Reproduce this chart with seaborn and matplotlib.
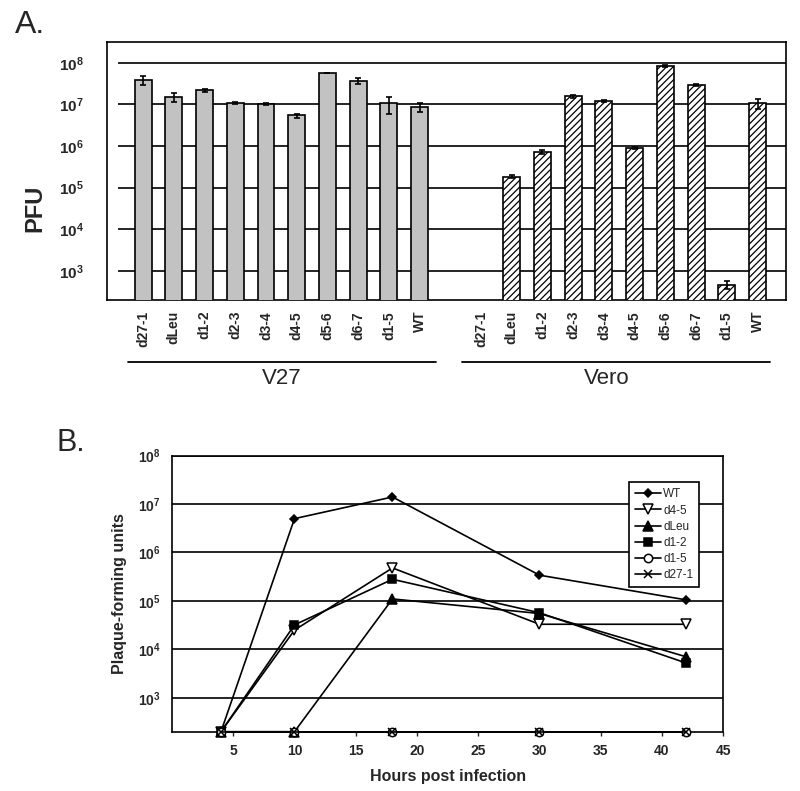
import numpy as np
import pandas as pd
import matplotlib
matplotlib.use('Agg')
import matplotlib.pyplot as plt
from matplotlib.ticker import NullLocator
import seaborn as sns

# panel A: virus yield on V27 and Vero cells
mutants = ['d27-1', 'dLeu', 'd1-2', 'd2-3', 'd3-4', 'd4-5', 'd5-6', 'd6-7', 'd1-5', 'WT']
v27_pfu = [3.9e7, 1.5e7, 2.2e7, 1.08e7, 1.0e7, 5.4e6, 5.7e7, 3.7e7, 1.05e7, 8.5e6]
v27_err = [1.0e7, 3.5e6, 2.0e6, 5e5, 5e5, 6e5, 0, 6e6, 4.5e6, 2e6]
vero_pfu = [np.nan, 1.8e5, 7.1e5, 1.55e7, 1.2e7, 8.9e5, 8.5e7, 2.9e7, 460, 1.07e7]
vero_err = [0, 1.5e4, 8e4, 1.5e6, 6e5, 4e4, 5e6, 1.5e6, 100, 3e6]
cell_lines = ['V27', 'Vero']

# panel B: growth curves on Vero cells
hours = [4, 10, 18, 30, 42]
growth_names = ['WT', 'd4-5', 'dLeu', 'd1-2', 'd1-5', 'd27-1']
wt_growth = [200, 5e6, 1.4e7, 3.4e5, 1.05e5]
d45_growth = [200, 2.5e4, 4.8e5, 3.3e4, 3.3e4]
dleu_growth = [200, 200, 1.1e5, 5.5e4, 7e3]
d12_growth = [200, 3.2e4, 2.8e5, 5.7e4, 5.2e3]
d15_growth = [200, 200, 200, 200, 200]
d271_growth = [200, 200, 200, 200, 200]
growth_values = [wt_growth, d45_growth, dleu_growth, d12_growth, d15_growth, d271_growth]

decades = [10 ** k for k in range(3, 9)]
decade_labels = [r'$\mathbf{10^{%d}}$' % k for k in range(3, 9)]

sns.set_style('white')
plt.rcParams['font.family'] = ['Liberation Sans', 'DejaVu Sans']
plt.rcParams['mathtext.fontset'] = 'custom'
plt.rcParams['mathtext.rm'] = 'Liberation Sans'
plt.rcParams['mathtext.bf'] = 'Liberation Sans:bold'
plt.rcParams['hatch.linewidth'] = 0.9

fig = plt.figure(figsize=(8, 7.91), dpi=100)
ax1 = fig.add_axes([0.134, 0.621, 0.849, 0.326])
ax2 = fig.add_axes([0.215, 0.075, 0.689, 0.349])

# ---- panel A ----
rows = []
for m, v, e in zip(mutants, v27_pfu, v27_err):
    rows.append({'slot': 'V27|' + m, 'cell': 'V27', 'pfu': v, 'err': e})
for m, v, e in zip(mutants, vero_pfu, vero_err):
    rows.append({'slot': 'Vero|' + m, 'cell': 'Vero', 'pfu': v, 'err': e})
df_a = pd.DataFrame(rows)
order = ['V27|' + m for m in mutants] + ['gap'] + ['Vero|' + m for m in mutants]

ax1.set_yscale('log')
sns.barplot(data=df_a, x='slot', y='pfu', hue='cell', order=order, hue_order=cell_lines,
            palette={'V27': '#c2c2c2', 'Vero': 'white'}, dodge=False, width=0.55,
            edgecolor='black', linewidth=1.2, errorbar=None, legend=False, ax=ax1, zorder=3)
for p in ax1.patches:
    if p.get_facecolor()[:3] == (1.0, 1.0, 1.0):
        p.set_hatch('/////')

ok = df_a['pfu'].notna()
xpos = [order.index(s) for s in df_a.loc[ok, 'slot']]
ax1.errorbar(xpos, df_a.loc[ok, 'pfu'], yerr=df_a.loc[ok, 'err'], fmt='none',
             ecolor='black', elinewidth=1.2, capsize=2.5, capthick=1.2, zorder=4)

ax1.set_ylim(200, 10 ** 8.5)
ax1.set_xlim(-1.17, 20.94)
ax1.set_yticks(decades)
ax1.set_yticklabels(decade_labels, fontsize=11)
ax1.yaxis.set_minor_locator(NullLocator())
ax1.set_xticks(range(len(order)))
ax1.set_xticklabels(mutants + [''] + mutants, rotation=90, fontsize=10, fontweight='bold')
ax1.tick_params(axis='y', length=0, pad=17)
ax1.tick_params(axis='x', length=0, pad=8)
# grid lines stop a little short of the left frame, as in the scan
ax1.hlines(decades, 0.016, 1, transform=ax1.get_yaxis_transform(), color='black',
           linewidth=1.2, zorder=1)
for s in ax1.spines.values():
    s.set_color('black')
    s.set_linewidth(1.2)
ax1.set_xlabel('')
ax1.set_ylabel('')
fig.text(35 / 800, 1 - 208 / 791, 'PFU', rotation=90, ha='center', va='center',
         fontsize=17, fontweight='bold')

tr = ax1.get_xaxis_transform()
for (x0, x1, xt), name in zip([(-0.49, 9.54, 4.5), (10.39, 20.42, 15.1)], cell_lines):
    ax1.plot([x0, x1], [-0.24, -0.24], color='black', linewidth=1.3, transform=tr, clip_on=False)
    ax1.text(xt, -0.307, name, transform=tr, ha='center', va='center', fontsize=16,
             family=['Liberation Sans Narrow', 'Liberation Sans'])

# ---- panel B ----
markers = ['D', 'v', '^', 's', 'o', 'x']
faces = ['black', 'white', 'black', 'black', 'white', 'black']
msizes = [4.5, 7, 7, 6, 6, 6]
ax2.set_yscale('log')
for name, vals, m, fc, ms in zip(growth_names, growth_values, markers, faces, msizes):
    sns.lineplot(x=hours, y=vals, ax=ax2, color='black', marker=m, markersize=ms,
                 markerfacecolor=fc, markeredgecolor='black', markeredgewidth=1.1,
                 linewidth=1.2, label=name, errorbar=None, clip_on=False, zorder=5)

ax2.set_ylim(200, 1e8)
ax2.set_xlim(0, 45)
ax2.set_yticks(decades)
ax2.set_yticklabels(decade_labels, fontsize=10)
ax2.yaxis.set_minor_locator(NullLocator())
ax2.set_xticks(range(5, 50, 5))
ax2.set_xticklabels([str(v) for v in range(5, 50, 5)], fontsize=10, fontweight='bold')
ax2.tick_params(axis='y', length=0, pad=8)
ax2.tick_params(axis='x', length=3, width=1, direction='out', pad=6, bottom=True)
ax2.grid(axis='y', color='black', linewidth=1.2)
ax2.set_axisbelow(True)
for s in ax2.spines.values():
    s.set_color('black')
    s.set_linewidth(1.2)
ax2.set_xlabel('Hours post infection', fontsize=11.5, fontweight='bold', labelpad=8)
ax2.set_ylabel('Plaque-forming units', fontsize=11.5, fontweight='bold', labelpad=8)
leg = ax2.legend(loc='upper right', bbox_to_anchor=(0.967, 0.924), fontsize=8.5,
                 frameon=True, fancybox=False, framealpha=1, edgecolor='black',
                 handlelength=2.2, handletextpad=0.2, labelspacing=0.35, borderpad=0.5)
leg.get_frame().set_linewidth(1.2)

fig.text(0.019, 0.968, 'A.', fontsize=23, va='center', ha='left')
fig.text(0.071, 0.44, 'B.', fontsize=22, va='center', ha='left')

fig.savefig('out.png', dpi=100)
